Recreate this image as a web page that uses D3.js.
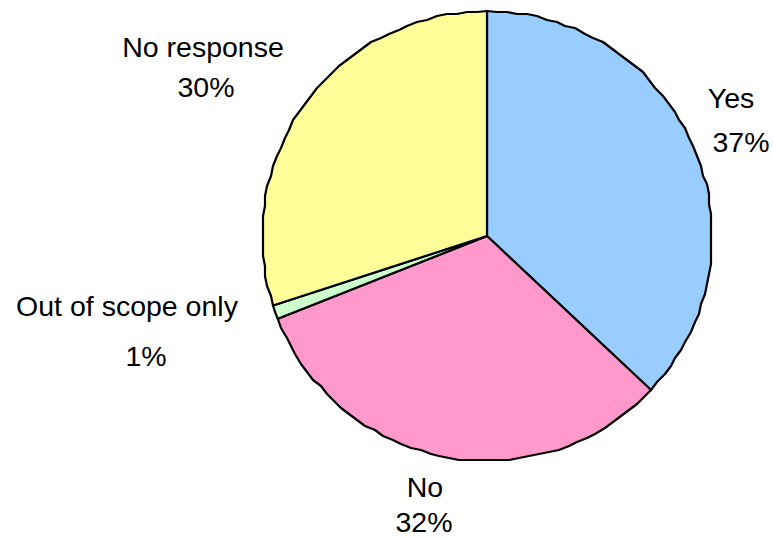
<!DOCTYPE html>
<html>
<head>
<meta charset="utf-8">
<script src="https://cdn.jsdelivr.net/npm/d3@7/dist/d3.min.js"></script>
<style>
  html, body { margin: 0; padding: 0; background: #fff; }
  svg text { font-family: "Liberation Sans", Arial, sans-serif; font-size: 28.5px; fill: #000; }
</style>
</head>
<body>
<svg id="chart" width="773" height="539"></svg>
<script>
// Survey responses, clockwise from 12 o'clock
const categories = ["Yes", "No", "Out of scope only", "No response"];
const shares = [37, 32, 1, 30];
const colors = ["#99CCFF", "#FF99CC", "#CCFFCC", "#FFFF99"];

// Label placement: centre x of each line and the two baselines
const labelLayout = [
  { x1: 731, x2: 741, y1: 108, y2: 152 },
  { x1: 425, x2: 424, y1: 497, y2: 532 },
  { x1: 127, x2: 146, y1: 316, y2: 366 },
  { x1: 203, x2: 206, y1: 57,  y2: 97 }
];

const cx = 487, cy = 236, radius = 225;

const svg = d3.select("#chart");
const g = svg.append("g").attr("transform", `translate(${cx},${cy})`);

const pie = d3.pie().sort(null).value(d => d.value);
const data = categories.map((c, i) => ({ name: c, value: shares[i], color: colors[i] }));
const arcs = pie(data);

// Slice outline drawn as a coarse polyline snapped to a pixel grid,
// which gives the rim its slightly ragged look.
const grid = 2;
const stepDeg = 2.6;
function slicePath(d) {
  const span = d.endAngle - d.startAngle;
  const n = Math.max(2, Math.ceil(span / (stepDeg * Math.PI / 180)));
  const pts = [[0, 0]];
  for (let k = 0; k <= n; k++) {
    const a = d.startAngle + span * k / n;
    let x = radius * Math.sin(a), y = -radius * Math.cos(a);
    if (k > 0 && k < n) {
      x = Math.round(x / grid) * grid;
      y = Math.round(y / grid) * grid;
    }
    pts.push([x, y]);
  }
  return d3.line()(pts) + "Z";
}

g.selectAll("path.slice")
  .data(arcs)
  .join("path")
  .attr("class", "slice")
  .attr("d", slicePath)
  .attr("fill", d => d.data.color)
  .attr("stroke", "#000")
  .attr("stroke-width", 2.2)
  .attr("stroke-linejoin", "round");

const labels = svg.selectAll("g.label")
  .data(arcs)
  .join("g")
  .attr("class", "label");

labels.append("text")
  .attr("text-anchor", "middle")
  .attr("x", (d, i) => labelLayout[i].x1)
  .attr("y", (d, i) => labelLayout[i].y1)
  .text(d => d.data.name);

labels.append("text")
  .attr("text-anchor", "middle")
  .attr("x", (d, i) => labelLayout[i].x2)
  .attr("y", (d, i) => labelLayout[i].y2)
  .text(d => d3.format(".0f")(d.data.value) + "%");
</script>
</body>
</html>
